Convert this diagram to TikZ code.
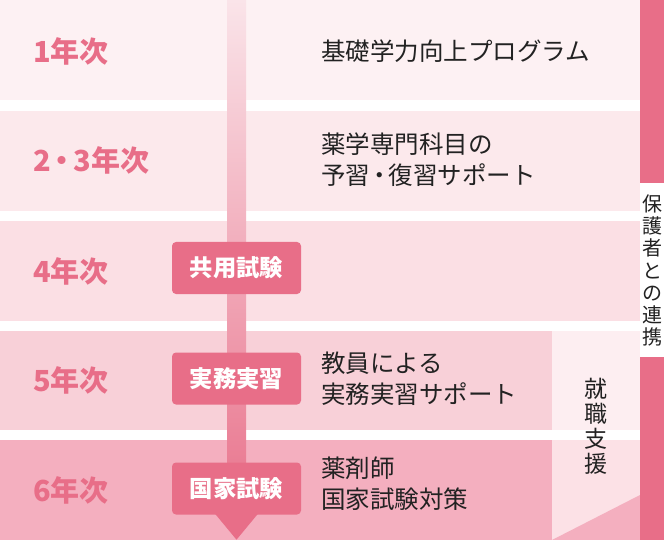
\documentclass[tikz,border=0pt]{standalone}
\usepackage{fontspec}
\newfontfamily\jp{Noto Sans CJK JP}
\definecolor{rowa}{HTML}{FDF1F3}
\definecolor{rowb}{HTML}{FCE9EC}
\definecolor{rowc}{HTML}{FBDFE4}
\definecolor{rowd}{HTML}{F8D0D8}
\definecolor{rowe}{HTML}{F4AFBF}
\definecolor{jobd}{HTML}{FDEEF1}
\definecolor{jobe}{HTML}{FCE1E6}
\definecolor{accent}{HTML}{E86E88}
\definecolor{linetop}{HTML}{FAE4E9}
\definecolor{linebot}{HTML}{EA7D94}
\definecolor{ink}{HTML}{222222}
\tikzset{
  yearlabel/.style={anchor=west, inner sep=0pt, text=accent, font=\jp\bfseries\fontsize{29}{31}\selectfont},
  content/.style={anchor=west, inner sep=0pt, text=ink, align=left, font=\jp\fontsize{24.5}{31}\selectfont},
  exambox/.style={fill=accent, rounded corners=4pt, minimum width=129pt, minimum height=52pt, inner sep=0pt, text=white, font=\jp\bfseries\fontsize{23.3}{24}\selectfont},
  vtext/.style={inner sep=0pt, text=ink, align=center}
}
\begin{document}
\begin{tikzpicture}[x=1pt,y=-1pt]
\useasboundingbox (0,0) rectangle (664,540);
\fill[white] (0,0) rectangle (664,540);
% rows
\fill[rowa] (0,0) rectangle (640,100);
\fill[rowb] (0,111) rectangle (640,211);
\fill[rowc] (0,221) rectangle (640,321);
\fill[rowd] (0,331) rectangle (552,430);
\fill[rowe] (0,440) rectangle (552,540);
% job support column
\fill[jobd] (552,331) rectangle (640,430);
\fill[jobe] (552,440) rectangle (640,540);
\fill[rowe] (552,540) -- (640,495) -- (640,540) -- cycle;
% right bar
\fill[accent] (640,0) rectangle (664,540);
\fill[white] (640,183) rectangle (664,357);
% timeline
\shade[top color=linetop, bottom color=linebot] (227,0) rectangle (246,470);
% exam boxes
\node[exambox] (k1) at (236.5,268) {共用試験};
\node[exambox] (k2) at (236.5,378.5) {実務実習};
\node[exambox] (k3) at (236.5,488.5) {国家試験};
\fill[accent] ([xshift=-21.5pt,yshift=1pt]k3.south) -- ([xshift=21.5pt,yshift=1pt]k3.south) -- ([yshift=-25pt]k3.south) -- cycle;
% year labels
\node[yearlabel] (y1) at (33,51) {1年次};
\node[yearlabel] (y2) at (33,160) {2\kern-3pt・\kern-3pt3年次};
\node[yearlabel] (y3) at (33,271) {4年次};
\node[yearlabel] (y4) at (33,380) {5年次};
\node[yearlabel] (y5) at (33,490) {6年次};
% contents
\node[content] (c1) at (321,51) {基礎学力向上プログラム};
\node[content] (c2) at (321,160) {薬学専門科目の\\予習\kern-3pt・\kern-3pt復習サポート};
\node[content] (c4) at (321,379) {教員による\\実務実習サポート};
\node[content] (c5) at (321,484) {薬剤師\\国家試験対策};
% vertical texts
\node[vtext, font=\jp\fontsize{23}{25}\selectfont] (job) at (596,426) {就\\職\\支\\援};
\node[vtext, font=\jp\fontsize{20}{22.3}\selectfont] (parent) at (652,270.5) {保\\護\\者\\と\\の\\連\\携};
\end{tikzpicture}
\end{document}
